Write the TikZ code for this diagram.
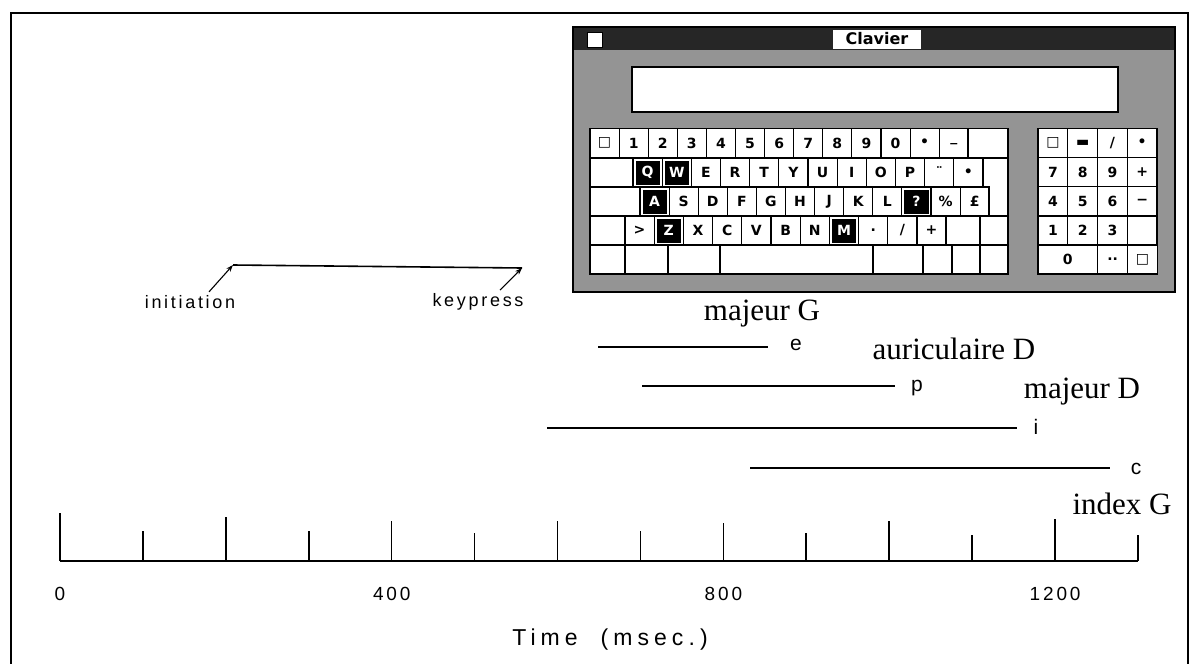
\documentclass[tikz,border=0pt]{standalone}
\usepackage{fontspec}
\setmainfont{Liberation Serif}
\newfontfamily\plotfont[LetterSpace=15]{Liberation Sans}
\newfontfamily\timefont[LetterSpace=22]{Liberation Sans}
\newfontfamily\letterfont{Liberation Sans}
\newfontfamily\keyfont{DejaVu Sans}
\usetikzlibrary{arrows.meta}

\begin{document}
\begin{tikzpicture}[x=1pt,y=-1pt,
  keycap/.style={draw,line width=1.1pt,fill=white,minimum width=29.1pt,minimum height=29pt,
    inner sep=0pt,font=\keyfont\bfseries\fontsize{14}{14}\selectfont},
  blackkey/.style={keycap,text=white,path picture={\fill[black]
    ([shift={(2.5pt,-2.5pt)}]path picture bounding box.north west) rectangle
    ([shift={(-2.5pt,2.5pt)}]path picture bounding box.south east);}},
  fingerlabel/.style={anchor=base,font=\fontsize{31}{31}\selectfont},
  letterlabel/.style={anchor=base,font=\letterfont\fontsize{21}{21}\selectfont},
  plotlabel/.style={font=\plotfont\fontsize{18}{18}\selectfont},
  ticklabel/.style={font=\plotfont\fontsize{19}{19}\selectfont},
  timeline/.style={line width=1.6pt},
  pointer/.style={-{Stealth[length=7pt,width=5pt]},line width=1.1pt}
]
  \useasboundingbox (0,0) rectangle (1192,664);
  % Frame
  \draw[line width=1.8pt] (11,664) -- (11,13) -- (1188,13) -- (1188,664);
  % Keyboard window
  \fill[black!42] (573,27) rectangle (1175,292);
  \fill[black!85] (573,27) rectangle (1175,50);
  \draw[line width=1.2pt] (573,27) rectangle (1175,292);
  \draw[fill=white,line width=1pt] (587,32) rectangle (602,47);
  \node[fill=white,minimum width=88pt,minimum height=19pt,inner sep=0pt,
    font=\keyfont\bfseries\fontsize{16}{16}\selectfont] (title) at (877,39) {Clavier};
  \draw[fill=white,line width=1.5pt] (632,67) rectangle (1118,112);
  \fill[white] (590,128) rectangle (1008,274);
  \fill[white] (1038,128) rectangle (1157,274);
  % Row 1
  \foreach \lab [count=\i from 0] in {□,1,2,3,4,5,6,7,8,9,0,•,\_}
    \node[keycap] (ka\i) at ({604.55+29.1*\i},143) {\lab};
  \node[keycap,minimum width=40pt] (ka13) at (988,143) {};
  % Row 2
  \node[keycap,minimum width=43pt] (kb0) at (611.5,172.5) {};
  \foreach \lab/\sty [count=\i] in {Q/blackkey,W/blackkey,E/keycap,R/keycap,T/keycap,Y/keycap,
      U/keycap,I/keycap,O/keycap,P/keycap,¨/keycap,•/keycap}
    \node[\sty] (kb\i) at ({618.4+29.17*\i},172.5) {\lab};
  % Row 3
  \node[keycap,minimum width=50pt] (kc0) at (615,201.5) {};
  \foreach \lab/\sty [count=\i] in {A/blackkey,S/keycap,D/keycap,F/keycap,G/keycap,H/keycap,
      J/keycap,K/keycap,L/keycap,?/blackkey,\%/keycap,£/keycap}
    \node[\sty] (kc\i) at ({625.45+29.1*\i},201.5) {\lab};
  % Return key
  \draw[line width=1.1pt,fill=white] (983,158) -- (1008,158) -- (1008,216) -- (989,216)
    -- (989,187) -- (983,187) -- cycle;
  % Row 4
  \node[keycap,minimum width=35pt] (kd0) at (607.5,230.5) {};
  \foreach \lab/\sty [count=\i] in {>/keycap,Z/blackkey,X/keycap,C/keycap,V/keycap,B/keycap,
      N/keycap,M/blackkey,./keycap,{/}/keycap,+/keycap}
    \node[\sty] (kd\i) at ({610.4+29.2*\i},230.5) {\lab};
  \node[keycap,minimum width=34pt] (kd12) at (963,230.5) {};
  \node[keycap,minimum width=28pt] (kd13) at (994,230.5) {};
  % Row 5
  \foreach \a/\b [count=\i] in {590/625,625/668,668/720,720/873,873/923,923/952,952/980,980/1008}
    \node[keycap,minimum width={(\b-\a)*1pt}] (ke\i) at ({(\a+\b)/2},259.5) {};
  % Keypad
  \foreach \row [count=\r from 0] in {{□,▬,{/},•},{7,8,9,+},{4,5,6,−},{1,2,3,{}}}
    \foreach \lab [count=\c from 0] in \row
      \node[keycap,minimum width=29.75pt] (kp\r\c) at ({1052.9+29.75*\c},{143+29.2*\r}) {\lab};
  \node[keycap,minimum width=59.5pt] (kp40) at (1067.75,259.5) {0};
  \node[keycap,minimum width=29.75pt] (kp41) at (1112.6,259.5) {..};
  \node[keycap,minimum width=29.75pt] (kp42) at (1142.4,259.5) {□};

  % Initiation -- keypress
  \node[plotlabel] (initiation) at (190,302) {initiation};
  \node[plotlabel] (keypress) at (478,302) {keypress};
  \coordinate (tinit) at (233,265);
  \coordinate (tkey) at (522,268);
  \draw[timeline] (tinit) -- (tkey);
  \draw[pointer] ([xshift=19pt]initiation.north) -- (tinit);
  \draw[pointer] ([xshift=22pt]keypress.north) -- (tkey);

  % Fingers and letters
  \node[fingerlabel] (majG) at (762,320) {majeur G};
  \node[fingerlabel] (auriD) at (954,359) {auriculaire D};
  \node[fingerlabel] (majD) at (1082,398) {majeur D};
  \node[fingerlabel] (indG) at (1122,514) {index G};
  \node[letterlabel] (le) at (796,350) {e};
  \node[letterlabel] (lp) at (917,391) {p};
  \node[letterlabel] (li) at (1036,434) {i};
  \node[letterlabel] (lc) at (1136,474) {c};
  \coordinate (e0) at (598,347);  \coordinate (e1) at (768,347);
  \coordinate (p0) at (642,386);  \coordinate (p1) at (895,386);
  \coordinate (i0) at (547,428);  \coordinate (i1) at (1017,428);
  \coordinate (c0) at (750,468);  \coordinate (c1) at (1110,468);
  \draw[timeline] (e0) -- (e1);
  \draw[timeline] (p0) -- (p1);
  \draw[timeline] (i0) -- (i1);
  \draw[timeline] (c0) -- (c1);

  % Time axis
  \coordinate (ax0) at (60,561);
  \coordinate (ax1) at (1138,561);
  \draw[timeline] (ax0) -- (ax1);
  \foreach \len [count=\i from 0] in {48,30,44,30,40,28,40,30,38,28,40,26,42,26}
    \draw[timeline] ({60+82.92*\i},561) -- ++(0,-\len);
  \foreach \t [count=\i from 0] in {0,400,800,1200}
    \node[ticklabel] (tl\i) at ({60+331.7*\i},594) {\t};
  \node[font=\timefont\fontsize{23}{23}\selectfont] (timelabel) at (610,640) {Time\ \ (msec.)};
\end{tikzpicture}
\end{document}
